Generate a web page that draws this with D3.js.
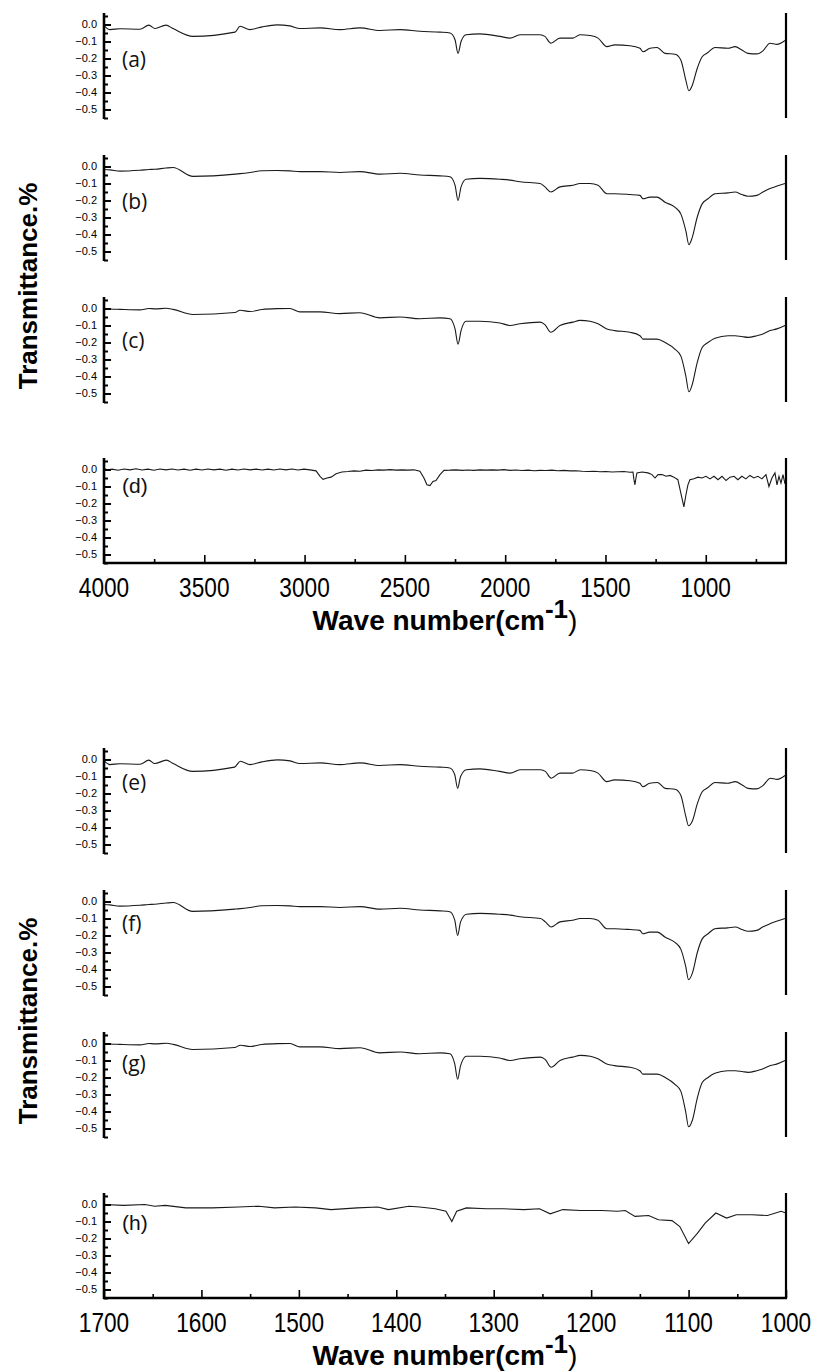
<!DOCTYPE html>
<html><head><meta charset="utf-8">
<script src="https://cdn.jsdelivr.net/npm/d3@7"></script>
<style>body{margin:0;background:#fff}</style></head>
<body>
<svg id="c" width="818" height="1372"></svg>
<script>
// ---------- DATA ----------
const wavesTop = [4000,3970,3920,3821,3776,3746,3691,3656,3556,3347,3322,3272,3212,3138,3073,3023,2923,2824,2724,2624,2524,2425,2325,2275,2250,2235,2220,2195,2126,2026,1976,1926,1826,1802,1772,1727,1662,1627,1577,1537,1493,1453,1378,1328,1313,1278,1243,1203,1153,1124,1099,1084,1068,1043,1018,989,954,889,854,820,790,745,715,680,645,605];
const wavesBottom = [1700,1694,1684,1663,1654,1648,1636,1629,1609,1566,1560,1550,1538,1522,1509,1499,1478,1458,1437,1417,1396,1376,1355,1345,1340,1337,1334,1328,1314,1294,1283,1273,1252,1247,1241,1232,1219,1211,1201,1193,1184,1176,1160,1150,1147,1140,1132,1124,1114,1108,1103,1100,1096,1091,1086,1080,1073,1060,1052,1045,1039,1030,1024,1016,1009,1001];
const seriesA = [-0.006,-0.03,-0.025,-0.028,-0.004,-0.024,-0.004,-0.024,-0.07,-0.045,-0.01,-0.03,-0.014,-0.002,-0.008,-0.024,-0.02,-0.03,-0.02,-0.035,-0.03,-0.04,-0.045,-0.05,-0.09,-0.17,-0.1,-0.06,-0.055,-0.07,-0.08,-0.06,-0.06,-0.07,-0.11,-0.08,-0.08,-0.06,-0.065,-0.08,-0.13,-0.12,-0.125,-0.14,-0.16,-0.14,-0.135,-0.17,-0.175,-0.21,-0.33,-0.39,-0.36,-0.26,-0.19,-0.165,-0.135,-0.14,-0.13,-0.15,-0.17,-0.173,-0.155,-0.11,-0.117,-0.094];
const seriesB = [-0.018,-0.02,-0.027,-0.022,-0.018,-0.016,-0.009,-0.006,-0.058,-0.045,-0.042,-0.035,-0.025,-0.024,-0.026,-0.03,-0.03,-0.035,-0.03,-0.045,-0.04,-0.05,-0.055,-0.06,-0.11,-0.2,-0.12,-0.075,-0.07,-0.075,-0.08,-0.09,-0.1,-0.12,-0.15,-0.12,-0.11,-0.1,-0.1,-0.11,-0.16,-0.16,-0.165,-0.17,-0.19,-0.18,-0.18,-0.21,-0.24,-0.28,-0.38,-0.46,-0.42,-0.3,-0.22,-0.19,-0.16,-0.155,-0.15,-0.165,-0.175,-0.17,-0.15,-0.13,-0.115,-0.1];
const seriesC = [0.0,-0.003,-0.005,-0.008,0.0,-0.002,0.001,-0.005,-0.035,-0.024,-0.01,-0.018,-0.006,-0.001,0.0,-0.02,-0.02,-0.03,-0.025,-0.055,-0.05,-0.06,-0.055,-0.06,-0.12,-0.21,-0.13,-0.075,-0.075,-0.085,-0.1,-0.09,-0.08,-0.095,-0.14,-0.1,-0.08,-0.07,-0.075,-0.09,-0.12,-0.13,-0.14,-0.16,-0.18,-0.18,-0.18,-0.2,-0.24,-0.28,-0.4,-0.49,-0.45,-0.32,-0.23,-0.2,-0.175,-0.16,-0.16,-0.165,-0.17,-0.16,-0.15,-0.13,-0.12,-0.1];
// panels (e)-(g) show the same traces as (a)-(c) on the 1700-1000 axis
const seriesE = seriesA.slice(), seriesF = seriesB.slice(), seriesG = seriesC.slice();
const seriesD = [[4000,0.005],[3980,-0.003],[3960,0.002],[3930,-0.004],[3900,0.003],[3870,-0.002],[3840,0.004],[3811,-0.003],[3781,0.002],[3751,-0.004],[3721,0.003],[3691,-0.002],[3661,0.003],[3631,-0.003],[3601,0.002],[3571,-0.004],[3541,0.002],[3511,-0.003],[3482,0.003],[3452,-0.002],[3422,0.002],[3392,-0.004],[3362,0.002],[3332,-0.003],[3302,0.003],[3272,-0.002],[3242,0.002],[3212,-0.003],[3182,0.002],[3153,-0.003],[3123,0.003],[3093,-0.002],[3063,0.003],[3033,-0.003],[3003,0.002],[2973,-0.002],[2943,-0.008],[2923,-0.04],[2908,-0.058],[2888,-0.05],[2868,-0.045],[2843,-0.025],[2814,-0.015],[2784,-0.012],[2754,-0.008],[2724,-0.01],[2694,-0.004],[2664,-0.006],[2634,-0.002],[2604,-0.004],[2574,-0.001],[2544,-0.004],[2514,-0.002],[2485,-0.004],[2455,-0.002],[2425,-0.01],[2405,-0.05],[2390,-0.09],[2375,-0.095],[2360,-0.07],[2345,-0.065],[2325,-0.03],[2305,-0.005],[2275,-0.004],[2245,-0.002],[2215,-0.005],[2185,-0.003],[2156,-0.005],[2126,-0.002],[2096,-0.004],[2066,-0.002],[2036,-0.004],[2006,-0.001],[1976,-0.005],[1946,-0.003],[1916,-0.006],[1886,-0.004],[1856,-0.007],[1827,-0.005],[1797,-0.006],[1767,-0.004],[1737,-0.007],[1707,-0.005],[1677,-0.008],[1647,-0.007],[1617,-0.01],[1587,-0.012],[1557,-0.01],[1527,-0.013],[1497,-0.012],[1468,-0.015],[1438,-0.013],[1408,-0.012],[1378,-0.016],[1363,-0.015],[1358,-0.06],[1353,-0.09],[1348,-0.05],[1343,-0.02],[1318,-0.015],[1288,-0.02],[1268,-0.03],[1253,-0.05],[1238,-0.03],[1218,-0.03],[1198,-0.04],[1178,-0.035],[1159,-0.045],[1139,-0.06],[1124,-0.14],[1109,-0.22],[1099,-0.15],[1089,-0.09],[1079,-0.06],[1059,-0.055],[1039,-0.045],[1019,-0.05],[999,-0.04],[979,-0.055],[959,-0.04],[939,-0.06],[919,-0.04],[899,-0.065],[879,-0.045],[859,-0.04],[840,-0.06],[820,-0.04],[800,-0.055],[780,-0.035],[760,-0.05],[740,-0.04],[720,-0.055],[700,-0.03],[685,-0.1],[670,-0.05],[655,-0.02],[645,-0.09],[635,-0.04],[625,-0.08],[615,-0.03],[605,-0.085]];
const seriesH = [[1700,0.0],[1680,-0.005],[1658,0.0],[1648,-0.01],[1637,-0.005],[1616,-0.02],[1589,-0.02],[1562,-0.015],[1541,-0.01],[1525,-0.02],[1504,-0.015],[1483,-0.02],[1467,-0.03],[1440,-0.02],[1419,-0.015],[1408,-0.03],[1387,-0.01],[1376,-0.015],[1360,-0.025],[1349,-0.04],[1343,-0.1],[1338,-0.04],[1328,-0.02],[1307,-0.025],[1291,-0.025],[1269,-0.03],[1253,-0.025],[1242,-0.055],[1229,-0.03],[1211,-0.035],[1189,-0.035],[1173,-0.04],[1165,-0.035],[1155,-0.07],[1141,-0.065],[1131,-0.09],[1117,-0.095],[1109,-0.13],[1100,-0.23],[1091,-0.17],[1083,-0.11],[1072,-0.05],[1061,-0.08],[1051,-0.06],[1035,-0.06],[1019,-0.065],[1005,-0.04],[1000,-0.05]];
const panelLabels = ["(a)","(b)","(c)","(d)","(e)","(f)","(g)","(h)"];
const yTickValues = [0.0,-0.1,-0.2,-0.3,-0.4,-0.5];
const yMinorValues = [0.05,-0.05,-0.15,-0.25,-0.35,-0.45,-0.55];
const xTicksTop = [4000,3500,3000,2500,2000,1500,1000];
const xMinorTop = [3750,3250,2750,2250,1750,1250,750];
const xTicksBottom = [1700,1600,1500,1400,1300,1200,1100,1000];
const xMinorBottom = [1650,1550,1450,1350,1250,1150,1050];
const yLabel = "Transmittance.%";

// ---------- LAYOUT ----------
const svg = d3.select("#c");
const L = 104, R = 786, H = 105;
const yDomain = [-0.55, 0.0676];
const groups = [
  {offset:0, domain:[4000,600], ticks:xTicksTop, minor:xMinorTop},
  {offset:735, domain:[1700,1000], ticks:xTicksBottom, minor:xMinorBottom}
];
const tops = [13,155,297,458];
const labelDy = [[35,35,32,16],[23,22,20,18]];
const labelFonts = ["'Open Sans',sans-serif","'Open Sans',sans-serif","'Open Sans',sans-serif","'Liberation Sans',sans-serif"];
const seriesByGroup = [
  [[wavesTop,seriesA],[wavesTop,seriesB],[wavesTop,seriesC],seriesD],
  [[wavesBottom,seriesE],[wavesBottom,seriesF],[wavesBottom,seriesG],seriesH]
];

groups.forEach((g,gi)=>{
  const x = d3.scaleLinear().domain(g.domain).range([L,R]);
  tops.forEach((t0,pi)=>{
    const top = t0 + g.offset;
    const y = d3.scaleLinear().domain(yDomain).range([top+H, top]);
    const p = svg.append("g");
    const s = seriesByGroup[gi][pi];
    const pts = pi===3 ? s : s[0].map((w,i)=>[w,s[1][i]]);
    const line = d3.line().x(d=>x(d[0])).y(d=>y(d[1]))
      .curve(pi===3 ? d3.curveLinear : d3.curveMonotoneX);
    p.append("path").datum(pts).attr("d",line)
      .attr("fill","none").attr("stroke","#1a1a1a").attr("stroke-width",1.1);
    const ax = d3.axisRight(y).tickValues(yTickValues).tickSize(7).tickFormat("");
    const axG = p.append("g").attr("transform",`translate(${L},0)`).call(ax);
    axG.select(".domain").remove();
    axG.selectAll("line").attr("stroke","#000").attr("stroke-width",2);
    const axm = d3.axisRight(y).tickValues(yMinorValues).tickSize(4).tickFormat("");
    const axmG = p.append("g").attr("transform",`translate(${L},0)`).call(axm);
    axmG.select(".domain").remove();
    axmG.selectAll("line").attr("stroke","#000").attr("stroke-width",2);
    p.append("line").attr("x1",L).attr("x2",L).attr("y1",y(yDomain[1])).attr("y2",y(yDomain[0])+1)
      .attr("stroke","#000").attr("stroke-width",2.6);
    p.selectAll("text.yt").data(yTickValues).join("text").attr("class","yt")
      .attr("x",L-7).attr("y",d=>y(d)).attr("dy","0.36em").attr("text-anchor","end")
      .attr("font-family","'Liberation Sans',Arial,sans-serif").attr("font-size",11).attr("fill","#000")
      .text(d=>d3.format(".1f")(d));
    p.append("line").attr("x1",R).attr("x2",R).attr("y1",y(yDomain[1])).attr("y2",y(yDomain[0]))
      .attr("stroke","#000").attr("stroke-width",2.2);
    p.append("text").attr("x",122).attr("y",y(0)+labelDy[gi][pi]+8)
      .attr("font-family",labelFonts[pi]).attr("font-size",21).attr("fill","#111")
      .text(panelLabels[gi*4+pi]);
    if(pi===3){
      const bx = d3.axisTop(x).tickValues(g.ticks).tickSize(8).tickFormat("");
      const bG = p.append("g").attr("transform",`translate(0,${top+H})`).call(bx);
      bG.select(".domain").remove();
      bG.selectAll("line").attr("stroke","#000").attr("stroke-width",1.6);
      const bm = d3.axisTop(x).tickValues(g.minor).tickSize(4).tickFormat("");
      const bmG = p.append("g").attr("transform",`translate(0,${top+H})`).call(bm);
      bmG.select(".domain").remove();
      bmG.selectAll("line").attr("stroke","#000").attr("stroke-width",1.6);
      p.append("line").attr("x1",L-1).attr("x2",R+1).attr("y1",top+H).attr("y2",top+H)
        .attr("stroke","#000").attr("stroke-width",2.4);
      p.selectAll("text.xt").data(g.ticks).join("text").attr("class","xt")
        .attr("transform",d=>`translate(${x(d)},${top+H+34}) scale(0.84,1)`)
        .attr("text-anchor","middle")
        .attr("font-family","'Liberation Sans',Arial,sans-serif")
        .attr("font-size",27).attr("fill","#000").text(d=>d);
      const tt = p.append("text").attr("x",445).attr("y",top+H+67).attr("text-anchor","middle")
        .attr("font-family","'Liberation Sans',Arial,sans-serif").attr("font-size",28).attr("fill","#000");
      tt.append("tspan").attr("font-weight","bold").text("Wave number(cm");
      tt.append("tspan").attr("font-weight","bold").attr("dy",-12).attr("font-size",26).text("-1");
      tt.append("tspan").attr("dy",12).text(")");
    }
  });
  svg.append("text").attr("transform",`translate(37,${g.offset+286}) rotate(-90)`)
    .attr("text-anchor","middle").attr("font-family","'Liberation Sans',Arial,sans-serif")
    .attr("font-weight","bold").attr("font-size",26).attr("fill","#000").text(yLabel);
});
</script>
</body></html>
